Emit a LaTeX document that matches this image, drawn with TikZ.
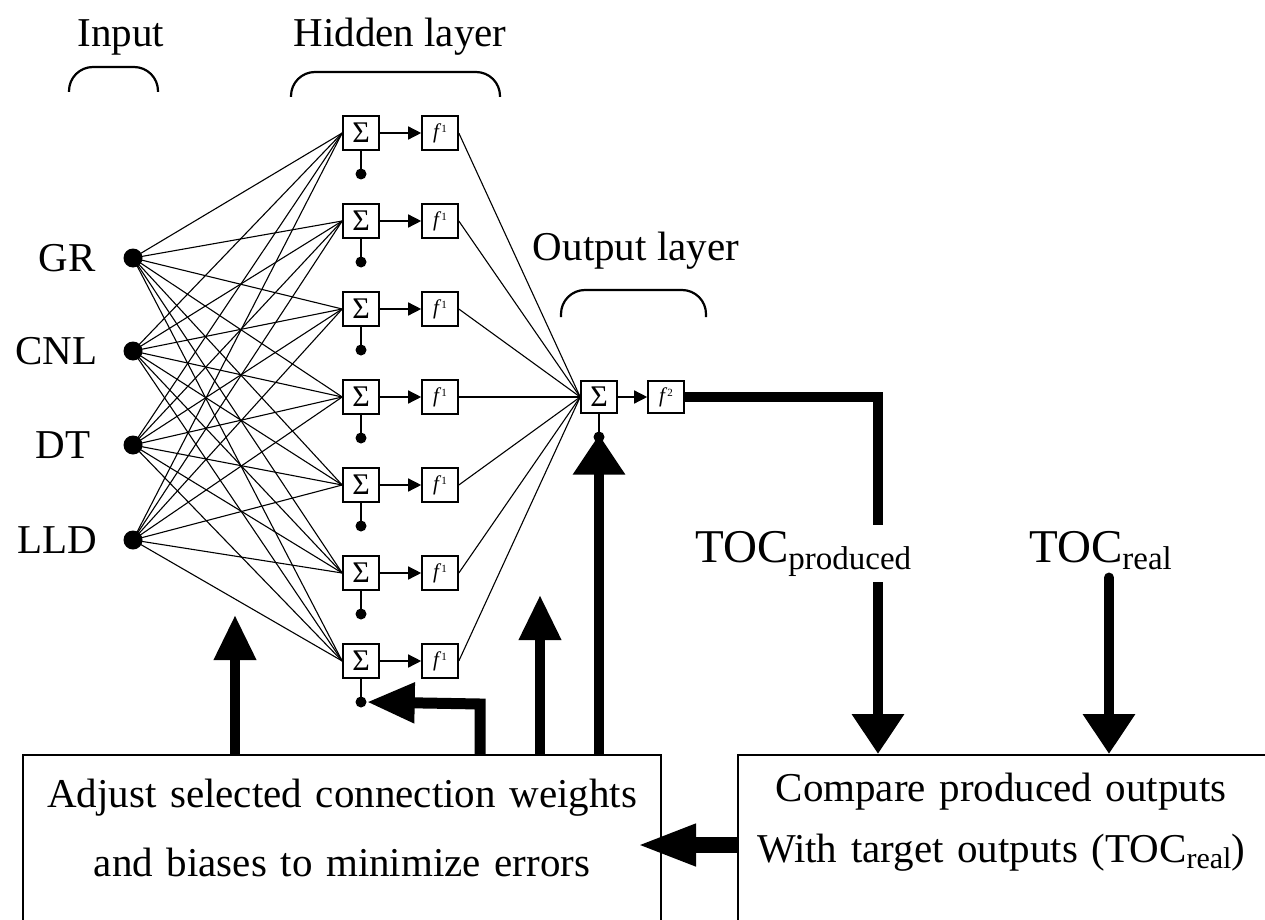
\documentclass[tikz,border=0pt]{standalone}
\usepackage{fontspec}
\setmainfont{Liberation Serif}
\usetikzlibrary{arrows.meta}
\newcommand{\fsup}[1]{\textit{f}\raisebox{6pt}{\fontsize{11}{11}\selectfont #1}}
\begin{document}
\begin{tikzpicture}[x=1pt,y=-1pt,
  unit/.style={draw, line width=1.6pt, minimum width=36pt, minimum height=34pt, inner sep=0pt},
  sumtxt/.style={font=\fontsize{30}{30}\selectfont},
  ftxt/.style={font=\fontsize{21}{21}\selectfont},
  indot/.style={circle, fill, inner sep=0pt, minimum size=19pt},
  bdot/.style={circle, fill, inner sep=0pt, minimum size=11pt},
  wire/.style={line width=1.1pt},
  tinyarrow/.style={line width=1.4pt, -{Triangle[width=13pt,length=13pt]}},
  bigarrow/.style={line width=10pt, -{Triangle[width=44pt,length=44pt]}},
  widearrow/.style={line width=10pt, -{Triangle[width=50pt,length=40pt]}},
  lbl/.style={font=\fontsize{41}{48}\selectfont},
  bracketline/.style={line width=2.2pt, rounded corners=24pt},
  bigbox/.style={draw, line width=2.2pt, inner sep=0pt},
]
\useasboundingbox (0,0) rectangle (1265,920);
\clip (0,0) rectangle (1265,920);

% titles and brackets
\node[lbl, anchor=base] (tin) at (121,47) {Input};
\node[lbl, anchor=base] (thid) at (400,47) {Hidden layer};
\node[lbl, anchor=base] (tout) at (636,260) {Output layer};
\draw[bracketline] (69,92) -- (69,67) -- (158,67) -- (158,92);
\draw[bracketline] (291,97) -- (291,72) -- (500,72) -- (500,97);
\draw[bracketline] (561,317) -- (561,290) -- (706,290) -- (706,317);

% inputs
\foreach \n/\y in {1/258, 2/351, 3/445, 4/540}{
  \node[indot] (i\n) at (133,\y) {};
}
\node[lbl, anchor=east] (l1) at (99,258) {GR};
\node[lbl, anchor=east] (l2) at (101,351) {CNL};
\node[lbl, anchor=east] (l3) at (94,445) {DT};
\node[lbl, anchor=east] (l4) at (101,540) {LLD};

% hidden units
\foreach \j/\y in {1/133, 2/221, 3/309, 4/397, 5/485, 6/573, 7/661}{
  \node[unit, sumtxt] (s\j) at (361,\y) {Σ};
  \node[unit, ftxt] (f\j) at (440,\y) {\fsup{1}};
  \node[bdot] (b\j) at (361,\y+41) {};
  \draw[tinyarrow] (s\j.east) -- (f\j.west);
  \draw[line width=1.6pt] (s\j.south) -- (b\j.center);
}

% output unit
\node[unit, sumtxt, minimum height=32pt] (so) at (599,397) {Σ};
\node[unit, ftxt, minimum height=32pt] (fo) at (666,397) {\fsup{2}};
\node[bdot] (bo) at (599,437) {};
\draw[tinyarrow] (so.east) -- (fo.west);
\draw[line width=1.6pt] (so.south) -- (bo.center);

% connections
\foreach \i in {1,...,4}{
  \foreach \j in {1,...,7}{
    \draw[wire] (i\i.center) -- (s\j.west);
  }
}
\foreach \j in {1,...,7}{
  \draw[wire] (f\j.east) -- (so.west);
}

% boxes
\node[bigbox, anchor=north west, minimum width=638pt, minimum height=240pt,
  label={[lbl, align=center, anchor=north, yshift=-22pt, text width=620pt]north:{Adjust selected connection weights\\[21pt] and biases to minimize errors}}] (adj) at (22,754) {};
\node[bigbox, anchor=north west, minimum width=600pt, minimum height=240pt,
  label={[lbl, align=center, anchor=north, yshift=-16pt, xshift=-37pt, text width=520pt]north:{Compare produced outputs\\[13pt] With target outputs (TOC\raisebox{-6pt}{\fontsize{30}{30}\selectfont real})}}] (cmp) at (737,754) {};

% output path to comparison
\coordinate (pj) at (878,397);
\draw[line width=10pt, -{Triangle[width=50pt,length=40pt]}] (fo.east) -- (pj) -- (pj |- cmp.north);
\node[lbl, anchor=base west, fill=white, inner xsep=0pt, inner ysep=6pt, font=\fontsize{47}{48}\selectfont] (tocp) at (695,562) {TOC\raisebox{-7pt}{\fontsize{33}{33}\selectfont produced}};
\node[lbl, anchor=base west, inner sep=4pt, font=\fontsize{47}{48}\selectfont] (tocr) at (1025,562) {TOC\raisebox{-7pt}{\fontsize{33}{33}\selectfont real}};
\coordinate (rx) at (1109,0);
\draw[line width=10pt, line cap=round, -{Triangle[width=50pt,length=40pt]}] ([yshift=-4pt]tocr.south -| rx) -- (cmp.north -| rx);

% feedback
\coordinate (t1) at (235,615);
\coordinate (t2) at (540,595);
\draw[bigarrow, -{Triangle[width=40pt,length=45pt]}] (adj.north -| t1) -- (t1);
\draw[bigarrow, -{Triangle[width=40pt,length=45pt]}] (adj.north -| t2) -- (t2);
\draw[widearrow] (adj.north -| bo) -- ([yshift=8pt]bo.south);
\coordinate (e1) at (480,704);
\draw[line width=11pt, -{Triangle[width=38pt,length=48pt]}] (adj.north -| e1) -- (e1) -- (b7.east);
\coordinate (t4) at (636,845);
\draw[line width=16pt, -{Triangle[width=38pt,length=60pt]}] (cmp.west |- t4) -- (t4);
\end{tikzpicture}
\end{document}
